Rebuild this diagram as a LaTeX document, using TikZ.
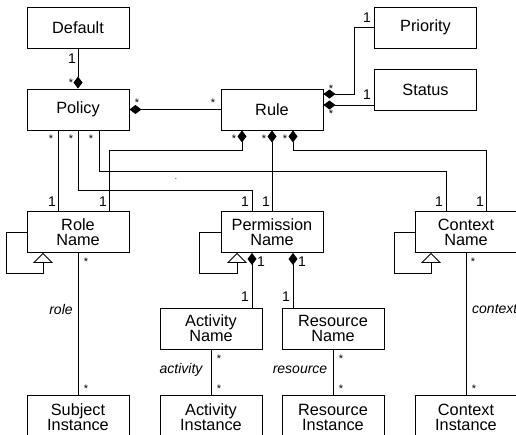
\documentclass[tikz,border=0pt]{standalone}
\usepackage{fontspec}
\setmainfont{Liberation Sans}
\usetikzlibrary{arrows.meta}
\begin{document}
\begin{tikzpicture}[x=1pt,y=-1pt,
  box/.style={draw, line width=0.9pt, minimum width=102pt, minimum height=41pt, inner sep=0pt, align=center, font=\fontsize{16.3}{15}\selectfont},
  ln/.style={line width=0.9pt},
  dia/.style={ln, {Diamond[length=12pt,width=9pt]}-},
  gen/.style={ln, -{Triangle[open,length=10pt,width=20pt]}},
  one/.style={inner sep=0pt, font=\fontsize{14}{14}\selectfont},
  st/.style={inner sep=0pt, yshift=-2pt, font=\fontsize{11}{11}\selectfont},
  rl/.style={inner sep=0pt, font=\fontsize{14}{14}\selectfont\itshape}]
\useasboundingbox (0,0) rectangle (516,434);
\clip (0,0) rectangle (516,434);
% boxes
\node[box] (def) at (78,27.5) {Default};
\node[box] (pol) at (78,109.5) {Policy};
\node[box] (rule) at (272,109.5) {Rule};
\node[box] (pri) at (425.5,27.5) {Priority};
\node[box] (sta) at (425.5,89.5) {Status};
\node[box] (role) at (78,232) {Role\\Name};
\node[box] (perm) at (272,232) {Permission\\Name};
\node[box] (ctx) at (466,232) {Context\\Name};
\node[box] (act) at (211,328.5) {Activity\\Name};
\node[box] (res) at (333,328.5) {Resource\\Name};
\node[box, minimum height=44pt] (subi) at (78,417) {Subject\\Instance};
\node[box, minimum height=44pt] (acti) at (211,417) {Activity\\Instance};
\node[box, minimum height=44pt] (resi) at (333,417) {Resource\\Instance};
\node[box, minimum height=44pt] (ctxi) at (466,417) {Context\\Instance};
% connectors
\draw[dia] (pol.north) -- (def.south);
\draw[dia] (pol.east) -- (rule.west);
\draw[ln] ([xshift=-20pt]pol.south) -- ([xshift=-20pt]role.north);
\draw[ln] (pol.south) |- ([xshift=-20pt,yshift=21pt]perm.north) -- ([xshift=-20pt]perm.north);
\draw[ln] ([xshift=21pt]pol.south) |- ([xshift=-20pt,yshift=40pt]ctx.north) -- ([xshift=-20pt]ctx.north);
\draw[dia] ([xshift=-30pt]rule.south) |- ([xshift=31pt,yshift=61pt]role.north) -- ([xshift=31pt]role.north);
\draw[dia] (rule.south) -- (perm.north);
\draw[dia] ([xshift=21pt]rule.south) |- ([xshift=20pt,yshift=61pt]ctx.north) -- ([xshift=20pt]ctx.north);
\draw[dia] ([yshift=15.5pt]rule.east) -| ([xshift=-20pt]pri.west) -- (pri.west);
\draw[dia] ([yshift=4.5pt]rule.east) -- ([yshift=4.5pt]rule.east -| sta.west);
\draw[gen] (role.west) -- ++(-20,0) |- ([xshift=-35pt,yshift=-20pt]role.south) -- ([xshift=-35pt]role.south);
\draw[gen] (perm.west) -- ++(-21,0) |- ([xshift=-35pt,yshift=-20pt]perm.south) -- ([xshift=-35pt]perm.south);
\draw[gen] (ctx.west) -- ++(-20,0) |- ([xshift=-35pt,yshift=-20pt]ctx.south) -- ([xshift=-35pt]ctx.south);
\draw[dia] ([xshift=-20pt]perm.south) -- ([xshift=-20pt]perm.south |- act.north);
\draw[dia] ([xshift=21pt]perm.south) -- ([xshift=21pt]perm.south |- res.north);
\draw[ln] (role.south) -- (subi.north);
\draw[ln] (act.south) -- (acti.north);
\draw[ln] (res.south) -- (resi.north);
\draw[ln] (ctx.south) -- (ctxi.north);
% multiplicities
\node[one] (m1) at (72,59) {1};
\node[st] (s1) at (71,81) {*};
\node[st] (s2) at (137,101) {*};
\node[st] (s3) at (213,101) {*};
\node[st] (s4) at (51,137) {*};
\node[st] (s5) at (71,137) {*};
\node[st] (s6) at (91,137) {*};
\node[st] (s7) at (234,137) {*};
\node[st] (s8) at (264,137) {*};
\node[st] (s9) at (285,137) {*};
\node[st] (s10) at (331,87) {*};
\node[st] (s11) at (331,112) {*};
\node[one] (m2) at (367,18) {1};
\node[one] (m3) at (367,95) {1};
\node[one] (m4) at (52,202) {1};
\node[one] (m5) at (103,202) {1};
\node[one] (m6) at (245,202) {1};
\node[one] (m7) at (266,202) {1};
\node[one] (m8) at (439,202) {1};
\node[one] (m9) at (480,202) {1};
\node[st] (s12) at (86,260) {*};
\node[one] (m10) at (261,262) {1};
\node[one] (m11) at (302,262) {1};
\node[st] (s13) at (473,260) {*};
\node[one] (m12) at (245,297) {1};
\node[one] (m13) at (286,297) {1};
\node[st] (s14) at (86,387) {*};
\node[st] (s15) at (219,357) {*};
\node[st] (s16) at (219,387) {*};
\node[st] (s17) at (341,357) {*};
\node[st] (s18) at (341,387) {*};
\node[st] (s19) at (474,387) {*};
% role names
\node[rl] (r1) at (61,309) {role};
\node[rl] (r2) at (181,370) {activity};
\node[rl] (r3) at (300,370) {resource};
\node[rl, anchor=west] (r4) at (472,309) {context};
\node[inner sep=0pt, font=\fontsize{8}{8}\selectfont] (dot) at (176,179) {.};
\end{tikzpicture}
\end{document}
